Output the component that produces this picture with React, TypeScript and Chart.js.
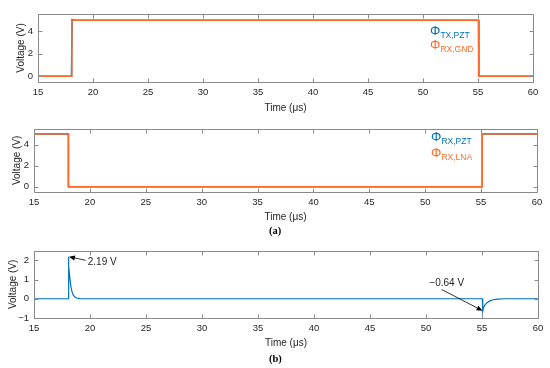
import React, { useEffect, useRef } from 'react';
import { Chart, registerables } from 'chart.js';

Chart.register(...registerables);

// ---------- data ----------
const X_TICKS = [15, 20, 25, 30, 35, 40, 45, 50, 55, 60];
const Y_TICKS_A = [0, 2, 4];
const Y_TICKS_B = [-1, 0, 1, 2];

// (a) top panel
const TX_PZT_T = [15, 18.04, 18.1, 18.3, 55.05, 55.08, 60];
const TX_PZT_V = [0, 0, 5.02, 4.95, 4.95, 0, 0];
const RX_GND_T = [15, 18.08, 18.08, 55.05, 55.05, 60];
const RX_GND_V = [0, 0, 4.95, 4.95, 0, 0];

// (a) bottom panel
const RX_PZT_T = [15, 18.08, 18.08, 55.1, 55.1, 60];
const RX_PZT_V = [5, 5, 0, 0, 5, 5];
const RX_LNA_T = [15, 18.08, 18.08, 55.1, 55.1, 60];
const RX_LNA_V = [5, 5, 0, 0, 5, 5];

// (b) panel
const OUT_T = [15, 18.05, 18.07, 18.12, 18.2, 18.3, 18.4, 18.5, 18.65, 18.8, 19.1, 19.5, 23, 55.03, 55.06, 55.12, 55.25, 55.45, 55.7, 56.0, 56.4, 57.0, 60];
const OUT_V = [0, 0, 2.19, 1.7, 1.1, 0.62, 0.35, 0.2, 0.09, 0.04, 0.01, 0, 0, 0, -0.64, -0.48, -0.33, -0.2, -0.11, -0.05, -0.02, 0, 0];

const BLUE = '#0072BD';
const ORANGE = '#FF6B2B';
const AXIS = '#8a8a8a';
const TEXT = '#262626';
const FONT = "'Liberation Sans', Arial, sans-serif";

const ANNOTATIONS = [
  { label: '2.19 V', tipX: 18.12, tipY: 2.19, tailX: 19.6, tailY: 2.0, textX: 19.8, textY: 1.88, align: 'left' },
  { label: '\u22120.64 V', tipX: 55.05, tipY: -0.62, tailX: 51.4, tailY: 0.48, textX: 51.85, textY: 0.8, align: 'center' },
];

const LEGEND_A = [
  { sub: 'TX,PZT', color: BLUE },
  { sub: 'RX,GND', color: ORANGE },
];
const LEGEND_B = [
  { sub: 'RX,PZT', color: BLUE },
  { sub: 'RX,LNA', color: ORANGE },
];

const toPts = (t: number[], v: number[]) => t.map((x, i) => ({ x, y: v[i] }));

// ---------- plugins ----------
const boxPlugin = {
  id: 'boxTicks',
  afterDatasetsDraw(chart: any) {
    const { ctx, chartArea: a, scales } = chart;
    const L = 4;
    ctx.save();
    ctx.strokeStyle = AXIS;
    ctx.lineWidth = 1;
    ctx.beginPath();
    const l = Math.round(a.left) + 0.5, r = Math.round(a.right) + 0.5;
    const t = Math.round(a.top) + 0.5, b = Math.round(a.bottom) + 0.5;
    ctx.rect(l, t, r - l, b - t);
    scales.x.ticks.forEach((tk: any) => {
      const px = Math.round(scales.x.getPixelForValue(tk.value)) + 0.5;
      ctx.moveTo(px, b); ctx.lineTo(px, b - L);
      ctx.moveTo(px, t); ctx.lineTo(px, t + L);
    });
    scales.y.ticks.forEach((tk: any) => {
      const py = Math.round(scales.y.getPixelForValue(tk.value)) + 0.5;
      ctx.moveTo(l, py); ctx.lineTo(l + L, py);
      ctx.moveTo(r, py); ctx.lineTo(r - L, py);
    });
    ctx.stroke();
    ctx.restore();
  },
};

const arrowPlugin = {
  id: 'arrows',
  afterDatasetsDraw(chart: any) {
    const { ctx, scales } = chart;
    const xs = scales.x, ys = scales.y;
    ctx.save();
    ANNOTATIONS.forEach((an) => {
      const tx = xs.getPixelForValue(an.tipX), ty = ys.getPixelForValue(an.tipY);
      const sx = xs.getPixelForValue(an.tailX), sy = ys.getPixelForValue(an.tailY);
      const ang = Math.atan2(ty - sy, tx - sx);
      const hl = 6, hw = 2.5;
      const bx = tx - hl * Math.cos(ang), by = ty - hl * Math.sin(ang);
      ctx.strokeStyle = '#000';
      ctx.fillStyle = '#000';
      ctx.lineWidth = 0.8;
      ctx.beginPath();
      ctx.moveTo(sx, sy);
      ctx.lineTo(bx, by);
      ctx.stroke();
      ctx.beginPath();
      ctx.moveTo(tx, ty);
      ctx.lineTo(bx - hw * Math.sin(ang), by + hw * Math.cos(ang));
      ctx.lineTo(bx + hw * Math.sin(ang), by - hw * Math.cos(ang));
      ctx.closePath();
      ctx.fill();
      ctx.fillStyle = TEXT;
      ctx.font = `10px ${FONT}`;
      ctx.textAlign = an.align as CanvasTextAlign;
      ctx.textBaseline = 'middle';
      ctx.fillText(an.label, xs.getPixelForValue(an.textX), ys.getPixelForValue(an.textY));
    });
    ctx.restore();
  },
};

// ---------- panel ----------
type PanelProps = {
  top: number;
  height: number;
  datasets: any[];
  yMin: number;
  yMax: number;
  yTicks: number[];
  pad: { left: number; top: number; right: number; bottom: number };
  xH: number;
  yW: number;
  yTitlePad: number;
  extra?: any[];
};

function Panel(p: PanelProps) {
  const ref = useRef<HTMLCanvasElement>(null);
  useEffect(() => {
    if (!ref.current) return;
    const chart = new Chart(ref.current, {
      type: 'line',
      data: { datasets: p.datasets },
      options: {
        animation: false,
        responsive: false,
        devicePixelRatio: 1,
        layout: { padding: p.pad },
        plugins: { legend: { display: false }, tooltip: { enabled: false } },
        elements: { point: { radius: 0 }, line: { tension: 0 } },
        scales: {
          x: {
            type: 'linear',
            min: 15,
            max: 60,
            afterBuildTicks: (s: any) => { s.ticks = X_TICKS.map((v) => ({ value: v })); },
            afterFit: (s: any) => { s.height = p.xH; },
            grid: { display: false, drawTicks: false },
            border: { display: false },
            ticks: { padding: 5, color: TEXT, font: { family: FONT, size: 9.5 }, maxRotation: 0 },
            title: { display: true, text: 'Time (\u03bcs)', color: TEXT, font: { family: FONT, size: 10 }, padding: { top: 0, bottom: 0 } },
          },
          y: {
            type: 'linear',
            min: p.yMin,
            max: p.yMax,
            afterBuildTicks: (s: any) => { s.ticks = p.yTicks.map((v) => ({ value: v })); },
            afterFit: (s: any) => { s.width = p.yW; },
            grid: { display: false, drawTicks: false },
            border: { display: false },
            ticks: { padding: 5, color: TEXT, font: { family: FONT, size: 9.5 }, callback: (v: any) => (Number(v) < 0 ? '\u2212' + Math.abs(Number(v)) : String(v)) },
            title: { display: true, text: 'Voltage (V)', color: TEXT, font: { family: FONT, size: 10 }, padding: { top: p.yTitlePad, bottom: 0 } },
          },
        },
      } as any,
      plugins: [boxPlugin, ...(p.extra || [])],
    });
    return () => chart.destroy();
  }, []);
  return (
    <canvas
      ref={ref}
      width={550}
      height={p.height}
      style={{ position: 'absolute', left: 0, top: p.top, width: 550, height: p.height }}
    />
  );
}

function Legend({ items, left, top, gap }: { items: { sub: string; color: string }[]; left: number; top: number; gap: number }) {
  return (
    <>
      {items.map((it, i) => (
        <div
          key={it.sub}
          style={{
            position: 'absolute',
            left,
            top: top + i * gap,
            color: it.color,
            fontFamily: FONT,
            fontSize: 13,
            lineHeight: '13px',
            whiteSpace: 'nowrap',
          }}
        >
          {'\u03a6'}
          <span style={{ fontSize: 8.5, position: 'relative', top: 3 }}>{it.sub}</span>
        </div>
      ))}
    </>
  );
}

// dataset 0 is drawn on top in Chart.js, so orange comes first
const line = (t: number[], v: number[], color: string, w: number) => ({
  data: toPts(t, v),
  borderColor: color,
  borderWidth: w,
  pointRadius: 0,
  fill: false,
});

export default function App() {
  return (
    <div style={{ position: 'absolute', left: 0, top: 0, width: 550, height: 368, background: '#fff', overflow: 'hidden' }}>
      <Panel
        top={0}
        height={120}
        datasets={[line(RX_GND_T, RX_GND_V, ORANGE, 1.5), line(TX_PZT_T, TX_PZT_V, BLUE, 1.5)]}
        yMin={-0.5}
        yMax={5.5}
        yTicks={Y_TICKS_A}
        pad={{ left: 0, top: 14, right: 17, bottom: 6 }}
        xH={32}
        yW={38}
        yTitlePad={15}
      />
      <Panel
        top={118}
        height={108}
        datasets={[line(RX_LNA_T, RX_LNA_V, ORANGE, 1.5), line(RX_PZT_T, RX_PZT_V, BLUE, 1.5)]}
        yMin={-0.5}
        yMax={5.5}
        yTicks={Y_TICKS_A}
        pad={{ left: 0, top: 6, right: 13, bottom: 3 }}
        xH={31}
        yW={34}
        yTitlePad={11}
      />
      <Panel
        top={240}
        height={128}
        datasets={[line(OUT_T, OUT_V, BLUE, 1.2)]}
        yMin={-1}
        yMax={2.5}
        yTicks={Y_TICKS_B}
        pad={{ left: 0, top: 10, right: 12, bottom: 19 }}
        xH={31}
        yW={34}
        yTitlePad={7}
        extra={[arrowPlugin]}
      />
      <Legend items={LEGEND_A} left={430} top={24} gap={14} />
      <Legend items={LEGEND_B} left={431} top={130} gap={16} />
      <div style={{ position: 'absolute', left: 269, top: 225, fontFamily: "'Liberation Serif', 'Times New Roman', serif", fontWeight: 'bold', fontSize: 10.5, color: '#000' }}>(a)</div>
      <div style={{ position: 'absolute', left: 269, top: 353, fontFamily: "'Liberation Serif', 'Times New Roman', serif", fontWeight: 'bold', fontSize: 10.5, color: '#000' }}>(b)</div>
    </div>
  );
}
